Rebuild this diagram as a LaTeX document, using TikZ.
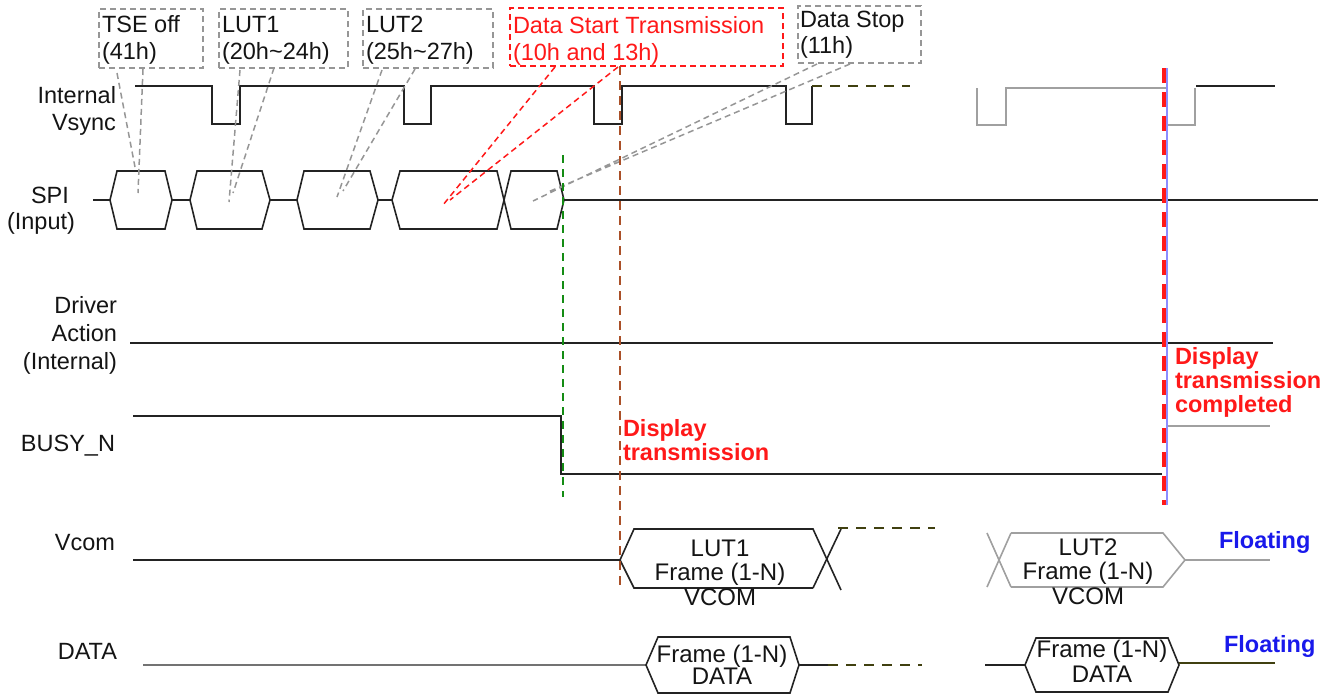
\documentclass[tikz,border=0pt]{standalone}
\usepackage{fontspec}
\setmainfont{Liberation Sans}
\definecolor{sig}{RGB}{35,35,35}
\definecolor{txt}{RGB}{20,20,20}
\definecolor{annog}{RGB}{150,150,150}
\definecolor{fade}{RGB}{160,160,160}
\definecolor{olivedk}{RGB}{64,64,16}
\definecolor{redx}{RGB}{255,25,25}
\definecolor{bluex}{RGB}{25,25,235}
\definecolor{brownx}{RGB}{170,80,40}
\definecolor{greenx}{RGB}{20,140,20}
\newcommand\hexsig[7]{% x1 x2 x3 x4 ytop ymid ybot
  (#1,#6)--(#2,#5)--(#3,#5)--(#4,#6)--(#3,#7)--(#2,#7)--cycle}
\begin{document}
\begin{tikzpicture}[x=1pt,y=-1pt,
  every node/.style={inner sep=0pt, outer sep=0pt, text=txt},
  fnt/.style={font=\fontsize{23.5}{#1}\selectfont},
  lbl/.style={fnt=28, align=right, anchor=base east},
  hextxt/.style={font=\fontsize{24}{24.5}\selectfont, align=center, anchor=base},
  annbox/.style={draw=annog, dashed, dash pattern=on 6pt off 4pt, line width=1.5pt, anchor=north west},
  anntxt/.style={fnt=27, align=left, anchor=base west},
  annline/.style={draw=annog, line width=1.5pt, dash pattern=on 6pt off 4pt},
  redline/.style={draw=redx, line width=1.5pt, dash pattern=on 6pt off 4pt},
  wave/.style={draw=sig, line width=1.6pt, line join=miter},
  fadewave/.style={draw=fade, line width=1.6pt},
  olivedash/.style={draw=olivedk, line width=1.8pt, dash pattern=on 10pt off 8pt},
  redbold/.style={font=\fontsize{23.5}{24}\selectfont\bfseries, text=redx, align=left, anchor=base west},
  floatlbl/.style={font=\fontsize{23.5}{24}\selectfont\bfseries, text=bluex, anchor=base west}
]
\useasboundingbox (0,0) rectangle (1335,694);

% ---------- left labels (anchor = baseline of last line) ----------
\node[lbl, fnt=27] (lvs) at (116,130) {Internal\\Vsync};
\node[fnt=28, align=center, anchor=base] (lspi) at (50,203) {SPI};
\node[fnt=28, align=center, anchor=base] (linp) at (41,229) {(Input)};
\node[lbl] (ldrv) at (117,369) {Driver\\Action\\(Internal)};
\node[lbl] (lbusy) at (115,451) {BUSY\_N};
\node[lbl] (lvcom) at (115,550) {Vcom};
\node[lbl] (ldata) at (117,659) {DATA};

% ---------- annotation boxes ----------
\node[annbox, minimum width=104pt, minimum height=59pt] (btse) at (99,9) {};
\node[anntxt] (ttse) at (102,59) {TSE off\\(41h)};
\node[annbox, minimum width=129pt, minimum height=59pt] (blut1) at (219,9) {};
\node[anntxt] (tlut1) at (222,59) {LUT1\\(20h\textasciitilde 24h)};
\node[annbox, minimum width=130pt, minimum height=59pt] (blut2) at (363,9) {};
\node[anntxt] (tlut2) at (366,59) {LUT2\\(25h\textasciitilde 27h)};
\node[annbox, draw=redx, minimum width=273pt, minimum height=58pt] (bdst) at (510,8) {};
\node[anntxt, text=redx] (tdst) at (513,60) {Data Start Transmission\\(10h and 13h)};
\node[annbox, minimum width=123pt, minimum height=57pt] (bstop) at (798,6) {};
\node[anntxt, fnt=26] (tstop) at (800,53) {Data Stop\\(11h)};

% ---------- Internal Vsync ----------
\draw[wave] (135,86)--(212,86)--(212,124)--(240,124)--(240,86)--(404,86)--(404,124)--(431,124)--(431,86)
  --(594,86)--(594,124)--(622,124)--(622,86)--(786,86)--(786,124)--(812,124)--(812,86);
\draw[olivedash] (812,86)--(910,86);
\draw[fadewave] (977,88)--(977,125)--(1006,125)--(1006,88)--(1167,88)--(1167,125)--(1195,125)--(1195,88);
\draw[wave, line width=2pt] (1196,86)--(1275,86);

% ---------- SPI ----------
\draw[wave] (93,200)--(110,200) (172,200)--(190,200) (270,200)--(297,200) (378,200)--(392,200) (564,200)--(1318,200);
\draw[wave] \hexsig{110}{117}{165}{172}{171}{200}{229};
\draw[wave] \hexsig{190}{197}{262}{270}{171}{200}{229};
\draw[wave] \hexsig{297}{304}{370}{378}{171}{200}{229};
\draw[wave] \hexsig{392}{400}{497}{504}{171}{200}{229};
\draw[wave] \hexsig{504}{511}{557}{564}{171}{200}{229};

% connector end points
\coordinate (ctse1) at (117,73);  \coordinate (etse1) at (135,167);
\coordinate (ctse2) at (143,69);  \coordinate (etse2) at (138,193);
\coordinate (clut1a) at (240,70); \coordinate (elut1a) at (229,202);
\coordinate (clut1b) at (274,68); \coordinate (elut1b) at (233,193);
\coordinate (clut2a) at (382,70); \coordinate (elut2a) at (337,197);
\coordinate (clut2b) at (415,69); \coordinate (elut2b) at (343,191);
\coordinate (cdsta) at (555,67);  \coordinate (edsta) at (443,205);
\coordinate (cdstb) at (618,67);  \coordinate (edstb) at (450,200);
\coordinate (cstpa) at (817,64);  \coordinate (estpa) at (533,201);
\coordinate (cstpb) at (850,64);  \coordinate (estpb) at (548,192);
\draw[annline] (ctse1)--(etse1) (ctse2)--(etse2) (clut1a)--(elut1a) (clut1b)--(elut1b)
  (clut2a)--(elut2a) (clut2b)--(elut2b) (cstpa)--(estpa) (cstpb)--(estpb);
\draw[redline] (cdsta)--(edsta) (cdstb)--(edstb);

% ---------- Driver action ----------
\draw[wave] (130,343)--(1273,343);

% ---------- BUSY_N ----------
\draw[wave] (133,416)--(561,416)--(561,474)--(1162,474);
\draw[fadewave] (1167,426)--(1270,426);

% ---------- Vcom ----------
\draw[wave] (133,560)--(620,560);
\draw[wave] (813,588)--(634,588)--(620,560)--(634,529)--(813,529)--(841,590);
\draw[wave] (813,588)--(841,529);
\draw[olivedash] (838,528)--(935,528);
\node[hextxt] (tvc1) at (720,605) {LUT1\\Frame (1-N)\\VCOM};
\draw[fadewave] (987,533)--(1011,587) (987,587)--(1011,533);
\draw[fadewave] (1011,533)--(1163,533)--(1185,560)--(1163,587)--(1011,587);
\draw[fadewave] (1185,560)--(1270,560);
\node[hextxt] (tvc2) at (1088,604) {LUT2\\Frame (1-N)\\VCOM};
\node[floatlbl] (fl1) at (1219,548) {Floating};

% ---------- DATA ----------
\draw[draw=gray!90!black, line width=2.4pt] (143,665)--(646,665);
\draw[wave] \hexsig{646}{658}{790}{799}{637}{665}{693};
\draw[wave] (799,665)--(830,665);
\draw[olivedash] (828,665)--(922,665);
\node[hextxt, font=\fontsize{24}{22}\selectfont] (td1) at (722,684) {Frame (1-N)\\DATA};
\draw[wave] (985,665)--(1025,665);
\draw[wave] \hexsig{1025}{1036}{1168}{1179}{638}{665}{692};
\draw[draw=olivedk, line width=1.8pt] (1179,663)--(1275,663);
\node[hextxt] (td2) at (1102,682) {Frame (1-N)\\DATA};
\node[floatlbl] (fl2) at (1224,652) {Floating};

% ---------- markers ----------
\draw[draw=greenx, line width=2pt, dash pattern=on 8pt off 6pt] (563,155)--(563,497);
\draw[draw=brownx, line width=2pt, dash pattern=on 9pt off 6pt] (620,66)--(620,585);
\draw[draw=blue!45, line width=1.2pt] (1167,68)--(1167,505);
\draw[draw=redx, line width=4.5pt, dash pattern=on 15pt off 9pt] (1164,68)--(1164,505);

\node[redbold] (tdisp) at (623,460) {Display\\transmission};
\node[redbold] (tdone) at (1175,412) {Display\\transmission\\completed};
\end{tikzpicture}
\end{document}
